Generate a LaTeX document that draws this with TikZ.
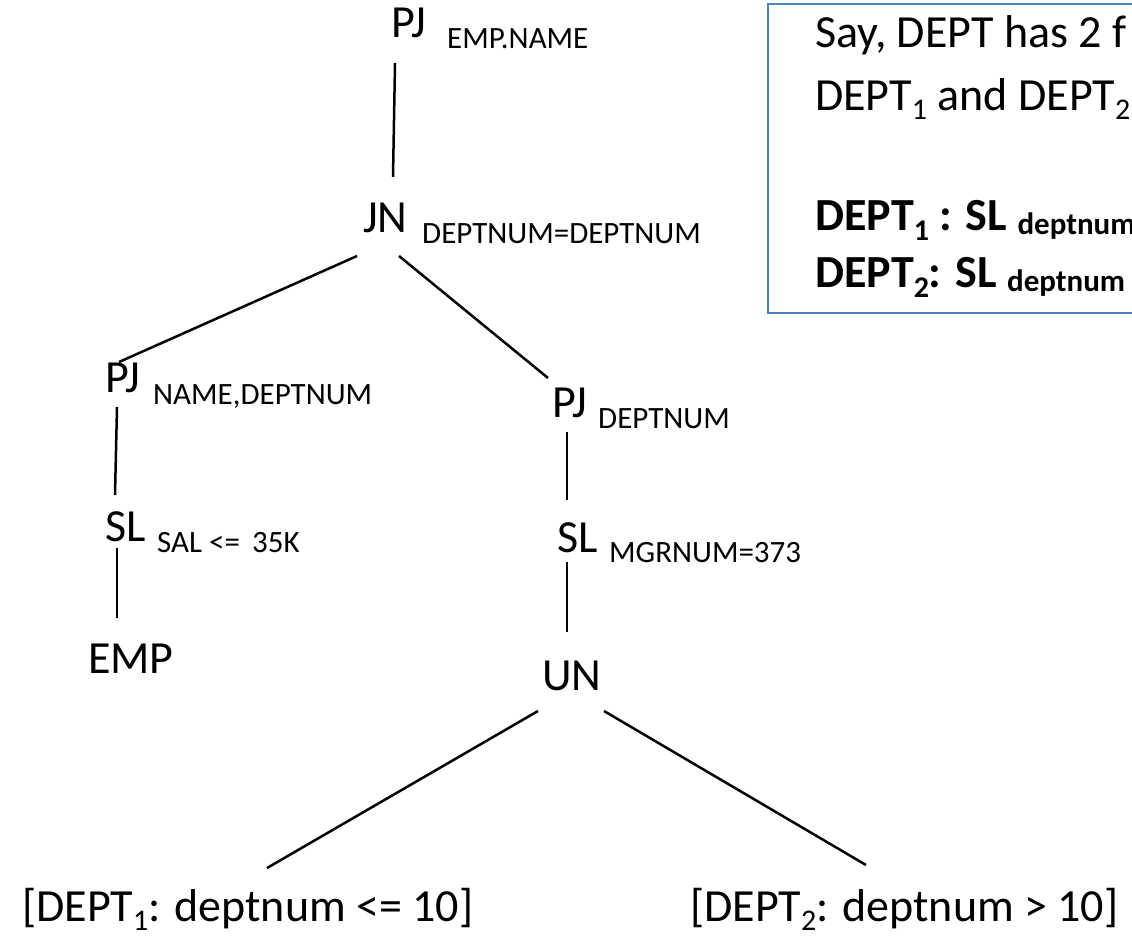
\documentclass[tikz,border=0pt]{standalone}
\usepackage{fontspec}
\setmainfont{Carlito}
\definecolor{noteblue}{RGB}{79,129,189}
% lowered small digit, used for fragment indices
\newcommand{\fragidx}[1]{\raisebox{-0.2em}{\fontsize{30}{30}\selectfont #1}}
\newcommand{\fragidxb}[1]{\raisebox{-0.22em}{\fontsize{30}{30}\selectfont\bfseries #1}}
\begin{document}
\begin{tikzpicture}[x=1pt,y=-1pt,
  op/.style={anchor=base west, inner sep=0pt, font=\fontsize{46}{50}\selectfont},
  cond/.style={anchor=base west, inner sep=0pt, font=\fontsize{31}{34}\selectfont},
  notetext/.style={anchor=base west, inner sep=0pt, font=\fontsize{46}{50}\selectfont},
  edge/.style={line width=2.5pt, black}]
\useasboundingbox (0,0) rectangle (1132,937);
\clip (0,0) rectangle (1132,937);

% operator tree
\node[op]   (pjtop)  at (391,37)  {PJ};
\node[cond] (pjtopc) at (447,48)  {EMP.NAME};
\node[op]   (jn)     at (363,232) {JN};
\node[cond] (jnc)    at (422,243) {DEPTNUM=DEPTNUM};
\node[op]   (pjl)    at (105,392) {PJ};
\node[cond] (pjlc)   at (153,404) {NAME,DEPTNUM};
\node[op]   (sll)    at (105,541) {SL};
\node[cond] (sllc)   at (157,552) {SAL <=\,\ 35K};
\node[op]   (emp)    at (88,673)  {EMP};
\node[op]   (pjr)    at (552,417) {PJ};
\node[cond] (pjrc)   at (598,428) {DEPTNUM};
\node[op]   (slr)    at (557,552) {SL};
\node[cond] (slrc)   at (609,562) {MGRNUM=373};
\node[op]   (un)     at (542,690) {UN};
\node[op]   (frag1)  at (22,921)  {[DEPT\fragidx{1}: deptnum <= 10]};
\node[op]   (frag2)  at (690,921) {[DEPT\fragidx{2}: deptnum > 10]};

% connectors, offsets taken from each node's base west point
\draw[edge] ([shift={(4,26)}]pjtop.base west)  -- ([shift={(30,-55)}]jn.base west);
\draw[edge] ([shift={(-6,24)}]jn.base west)    -- ([shift={(14,-30)}]pjl.base west);
\draw[edge] ([shift={(36,24)}]jn.base west)    -- ([shift={(-4,-39)}]pjr.base west);
\draw[edge] ([shift={(12,15)}]pjl.base west)   -- ([shift={(10,-46)}]sll.base west);
\draw[edge] ([shift={(12,7)}]sll.base west)    -- ([shift={(29,-55)}]emp.base west);
\draw[edge] ([shift={(15,15)}]pjr.base west)   -- ([shift={(10,-52)}]slr.base west);
\draw[edge] ([shift={(10,10)}]slr.base west)   -- ([shift={(25,-58)}]un.base west);
\draw[edge] ([shift={(-4,21)}]un.base west)    -- ([shift={(245,-53)}]frag1.base west);
\draw[edge] ([shift={(62,21)}]un.base west)    -- ([shift={(176,-56)}]frag2.base west);

% note on fragmentation
\node[draw=noteblue, line width=2.4pt, inner sep=0pt, anchor=north west,
      minimum width=500pt, minimum height=309pt] (note) at (767,3) {};
\node[notetext] (say)   at (815,47)  {Say, DEPT has 2 f};
\node[notetext] (frags) at (815,110) {DEPT\fragidx{1} and DEPT\fragidx{2}};
\node[notetext, font=\fontsize{46}{50}\selectfont\bfseries] (def1) at (815,230)
  {DEPT\fragidxb{1} : SL \raisebox{-0.1em}{\fontsize{31}{34}\selectfont\bfseries deptnum}};
\node[notetext, font=\fontsize{46}{50}\selectfont\bfseries] (def2) at (815,287)
  {DEPT\fragidxb{2}: SL \raisebox{-0.1em}{\fontsize{31}{34}\selectfont\bfseries deptnum}};
\end{tikzpicture}
\end{document}
